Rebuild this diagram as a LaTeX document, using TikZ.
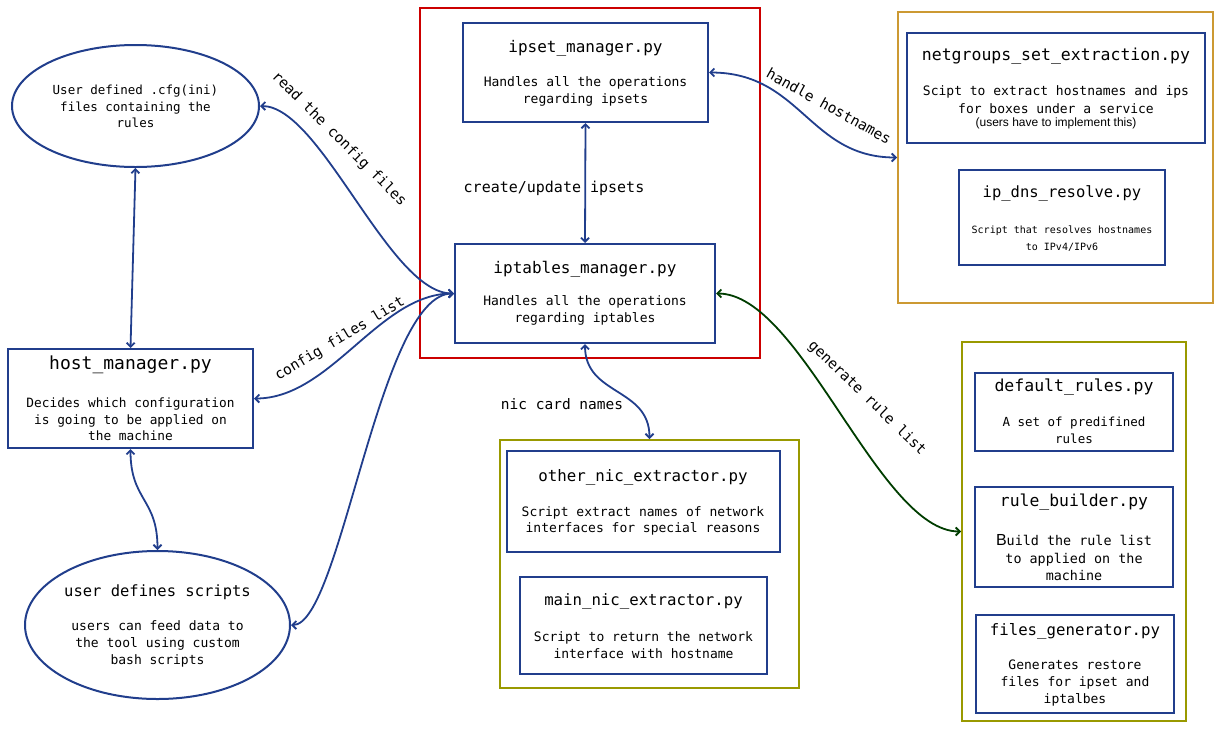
\documentclass[tikz,border=0pt]{standalone}
\usepackage{fontspec}
\setmonofont{DejaVu Sans Mono}
\newfontfamily\libsans{Liberation Sans}
\usetikzlibrary{arrows.meta,shapes.geometric}
\definecolor{nblue}{HTML}{213E8C}
\definecolor{nred}{HTML}{CC0000}
\definecolor{norange}{HTML}{CC9933}
\definecolor{nolive}{HTML}{999900}
\definecolor{ngreen}{HTML}{003D00}
\tikzset{
  box/.style={draw=nblue, line width=2pt, inner sep=0pt, rectangle},
  grp/.style={line width=2pt, inner sep=0pt, rectangle},
  ell/.style={draw=nblue, line width=2pt, inner sep=0pt, ellipse},
  txt/.style={inner sep=0pt, align=center, text=black},
  ttl/.style={txt, font=\ttfamily\fontsize{16}{19}\selectfont},
  dsc/.style={txt, font=\ttfamily\fontsize{13}{17}\selectfont},
  lbl/.style={txt, font=\ttfamily\fontsize{14.5}{17}\selectfont},
  barb/.tip={Straight Barb[length=4pt,width=8pt]},
  arr/.style={draw=nblue, line width=1.8pt, barb-barb},
  garr/.style={draw=ngreen, line width=1.8pt, barb-barb}
}
\begin{document}
\begin{tikzpicture}[x=1pt,y=-1pt]
\useasboundingbox (0,0) rectangle (1229,729);

% group containers
\node[grp, draw=nred, minimum width=340pt, minimum height=350pt] (core) at (590,183) {};
\node[grp, draw=norange, minimum width=315pt, minimum height=291pt] (hostgrp) at (1055.5,157.5) {};
\node[grp, draw=nolive, minimum width=299pt, minimum height=248pt] (nicgrp) at (649.5,564) {};
\node[grp, draw=nolive, minimum width=224pt, minimum height=379pt] (rulegrp) at (1074,531.5) {};

% boxes
\node[box, minimum width=245pt, minimum height=99pt] (ipset) at (585.5,72.5) {};
\node[box, minimum width=260pt, minimum height=99pt] (iptables) at (585,293.5) {};
\node[box, minimum width=298pt, minimum height=110pt] (netg) at (1056,88) {};
\node[box, minimum width=206pt, minimum height=95pt] (dns) at (1062,217.5) {};
\node[box, minimum width=245pt, minimum height=99pt] (host) at (130.5,398.5) {};
\node[box, minimum width=273pt, minimum height=101pt] (onic) at (643.5,501.5) {};
\node[box, minimum width=247pt, minimum height=97pt] (mnic) at (643.5,625.5) {};
\node[box, minimum width=198pt, minimum height=78pt] (defr) at (1074,412) {};
\node[box, minimum width=198pt, minimum height=100pt] (rb) at (1074,537) {};
\node[box, minimum width=198pt, minimum height=98pt] (fg) at (1075,664) {};

% ellipses
\node[ell, minimum width=247pt, minimum height=122pt] (cfg) at (135.5,106) {};
\node[ell, minimum width=265pt, minimum height=148pt] (usr) at (157.5,625) {};

% texts
\node[dsc, font=\ttfamily\fontsize{12.5}{16.5}\selectfont] (cfgt) at (135.5,106.5) {User defined .cfg(ini)\\files containing the\\rules};

\node[ttl] (ipsett) at (585.5,48) {ipset\_manager.py};
\node[dsc] (ipsetd) at (585.5,91.5) {Handles all the operations\\regarding ipsets};

\node[ttl] (iptt) at (585,269) {iptables\_manager.py};
\node[dsc] (iptd) at (585,310.5) {Handles all the operations\\regarding iptables};

\node[lbl, font=\ttfamily\fontsize{15}{17}\selectfont] (cul) at (554,188) {create/update ipsets};

\node[ttl, font=\ttfamily\fontsize{16.5}{19}\selectfont] (netgt) at (1056,56) {netgroups\_set\_extraction.py};
\node[dsc, font=\ttfamily\fontsize{13}{18}\selectfont] (netgd) at (1056,100) {Scipt to extract hostnames and ips\\for boxes under a service};
\node[txt, font=\libsans\fontsize{12}{14}\selectfont] (netgs) at (1056,123) {(users have to implement this)};

\node[ttl, font=\ttfamily\fontsize{15.5}{19}\selectfont] (dnst) at (1062,193) {ip\_dns\_resolve.py};
\node[dsc, font=\ttfamily\fontsize{10}{17}\selectfont] (dnsd) at (1062,238.5) {Script that resolves hostnames\\to IPv4/IPv6};

\node[ttl, font=\ttfamily\fontsize{18}{20}\selectfont] (hostt) at (130.5,365) {host\_manager.py};
\node[dsc, font=\ttfamily\fontsize{12.8}{16.7}\selectfont] (hostd) at (130.5,419.5) {Decides which configuration\\is going to be applied on\\the machine};

\node[ttl, font=\ttfamily\fontsize{15.5}{19}\selectfont] (usrt) at (157.5,592) {user defines scripts};
\node[dsc, font=\ttfamily\fontsize{13}{16.7}\selectfont] (usrd) at (157.5,644) {users can feed data to\\the tool using custom\\bash scripts};

\node[ttl, font=\ttfamily\fontsize{15.8}{19}\selectfont] (onict) at (643,477) {other\_nic\_extractor.py};
\node[dsc, font=\ttfamily\fontsize{13}{16.5}\selectfont] (onicd) at (643,521) {Script extract names of network\\interfaces for special reasons};

\node[ttl, font=\ttfamily\fontsize{15.7}{19}\selectfont] (mnict) at (643.5,601) {main\_nic\_extractor.py};
\node[dsc, font=\ttfamily\fontsize{13}{16.5}\selectfont] (mnicd) at (643.5,645) {Script to return the network\\interface with hostname};

\node[ttl, font=\ttfamily\fontsize{16.5}{19}\selectfont] (defrt) at (1074,387) {default\_rules.py};
\node[dsc, font=\ttfamily\fontsize{12.5}{17}\selectfont] (defrd) at (1074,430.5) {A set of predifined\\rules};

\node[ttl, font=\ttfamily\fontsize{16.4}{19}\selectfont] (rbt) at (1074,502) {rule\_builder.py};
\node[dsc, font=\ttfamily\fontsize{13.4}{17.5}\selectfont] (rbd) at (1074,558) {{\libsans\fontsize{16}{17.5}\selectfont B}uild the rule list\\to applied on the\\machine};

\node[ttl, font=\ttfamily\fontsize{15.7}{19}\selectfont] (fgt) at (1075,631) {files\_generator.py};
\node[dsc, font=\ttfamily\fontsize{13}{17}\selectfont] (fgd) at (1075,683) {Generates restore\\files for ipset and\\iptalbes};

% connectors
\draw[arr] (cfg.south) -- (host.north);
\draw[arr] (host.south) .. controls +(0,52) and +(0,-52) .. (usr.north);
\draw[arr] (cfg.east) .. controls +(61,0) and +(-65,0) .. (iptables.west);
\node[lbl, rotate=-45] (readlbl) at (339,139) {read the config files};
\draw[arr] (host.east) .. controls +(77,0) and +(-75,0) .. (iptables.west);
\node[lbl, rotate=31] (cfllbl) at (340,339) {config files list};
\draw[arr] (usr.east) .. controls +(50,0) and +(-75,0) .. (iptables.west);
\draw[arr] (ipset.south) -- (iptables.north);
\draw[arr] (iptables.south) .. controls +(0,52) and +(0,-52) .. (nicgrp.north);
\node[lbl] (niclbl) at (562,404) {nic card names};
\draw[arr] (ipset.east) .. controls +(92,0) and +(-88,0) .. (hostgrp.west);
\node[lbl, rotate=-29] (hhlbl) at (829,106) {handle hostnames};
\draw[garr] (iptables.east) .. controls +(85,0) and +(-82,0) .. (rulegrp.west);
\node[lbl, rotate=-44] (grllbl) at (867,398) {generate rule list};
\end{tikzpicture}
\end{document}
